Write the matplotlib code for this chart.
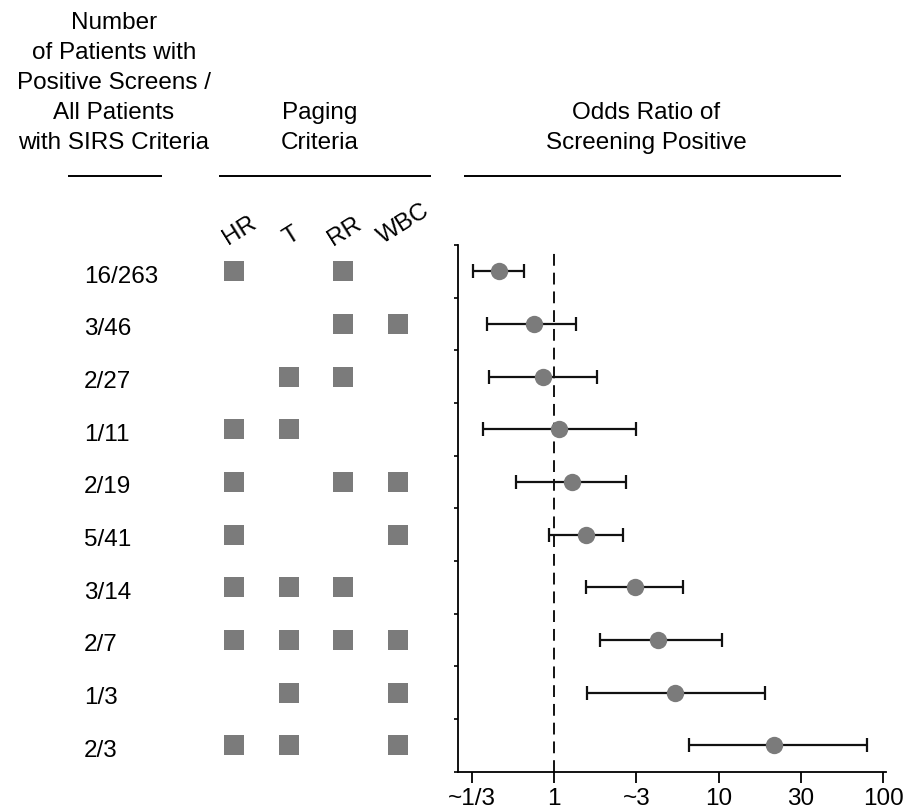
import numpy as np
import matplotlib
matplotlib.use("Agg")
import matplotlib.pyplot as plt
from matplotlib.transforms import offset_copy

plt.rcParams['font.family'] = ['Liberation Sans', 'DejaVu Sans']

# ---------------- data ----------------
counts = ["16/263", "3/46", "2/27", "1/11", "2/19", "5/41", "3/14", "2/7", "1/3", "2/3"]
criteria = ["HR", "T", "RR", "WBC"]
hr  = [1, 0, 0, 1, 1, 1, 1, 1, 0, 1]
t   = [0, 0, 1, 1, 0, 0, 1, 1, 1, 1]
rr  = [1, 1, 1, 0, 1, 0, 1, 1, 0, 0]
wbc = [0, 1, 0, 0, 1, 1, 0, 1, 1, 1]
odds_ratio = [0.46, 0.75, 0.86, 1.07, 1.28, 1.57, 3.08, 4.27, 5.39, 21.8]
ci_low     = [0.32, 0.39, 0.40, 0.37, 0.59, 0.93, 1.57, 1.89, 1.59, 6.64]
ci_high    = [0.655, 1.35, 1.83, 3.13, 2.75, 2.62, 6.05, 10.5, 19.1, 80.0]
xtick_vals = [10 ** -0.5, 1, 10 ** 0.5, 10, 10 ** 1.5, 100]
xtick_labels = ["~1/3", "1", "~3", "10", "30", "100"]

# ---------------- layout ----------------
W, H = 905, 810
FS = 17.5
GREY = '#7b7b7b'
fig = plt.figure(figsize=(W / 100, H / 100), dpi=100)

ax_left_px, ax_right_px, ax_top_px, ax_bot_px = 458.3, 886.0, 245.0, 771.5
pos = [ax_left_px / W, (H - ax_bot_px) / H, (ax_right_px - ax_left_px) / W, (ax_bot_px - ax_top_px) / H]

# overlay for headers
ov = fig.add_axes([0, 0, 1, 1])
ov.set_xlim(0, W)
ov.set_ylim(H, 0)
ov.axis('off')

LS = 1.475
ov.text(114, 12, "Number\nof Patients with\nPositive Screens /\nAll Patients\nwith SIRS Criteria",
        ha='center', va='top', fontsize=FS, linespacing=LS, multialignment='center')
ov.text(320, 102, "Paging\nCriteria", ha='center', va='top', fontsize=FS,
        linespacing=LS, multialignment='center')
ov.text(646, 102, "Odds Ratio of\nScreening Positive", ha='center', va='top', fontsize=FS,
        linespacing=LS, multialignment='center')
for x0, x1 in [(68, 162), (219, 431), (464, 841)]:
    ov.plot([x0, x1], [175.5, 175.5], color='black', lw=1.4, solid_capstyle='butt')

# paging criteria grid
n = len(counts)
rows = np.arange(n)
gx = fig.add_axes([0, pos[1], ax_left_px / W, pos[3]])
gx.set_xlim(0, ax_left_px)
gx.set_ylim(n - 0.5, -0.5)
gx.axis('off')
col_x = [234, 289, 343, 398]
for cx, flags in zip(col_x, [hr, t, rr, wbc]):
    f = np.array(flags, bool)
    gx.plot(np.full(f.sum(), cx), rows[f], 's', color=GREY, markersize=15.0,
            markeredgewidth=0, linestyle='none')

label_tr = offset_copy(gx.transData, fig=fig, x=0, y=-11.5, units='dots')
for r, c in zip(rows, counts):
    gx.text(84, r, c, ha='left', va='baseline', fontsize=FS, transform=label_tr)

lab_pos = [(219, 249), (279, 249), (324, 250), (374, 248)]
for (lx, ly), name in zip(lab_pos, criteria):
    ov.text(lx, ly, name, rotation=32, ha='left', va='bottom', fontsize=FS)

# forest plot
ax = fig.add_axes(pos)
ax.set_xscale('log')
ax.set_xlim(10 ** -0.582, 10 ** 2.016)
ax.set_ylim(n - 0.5, -0.5)
orv = np.array(odds_ratio)
err = [orv - np.array(ci_low), np.array(ci_high) - orv]
ax.errorbar(orv, rows, xerr=err, fmt='none', ecolor='#111111',
            elinewidth=1.6, capsize=5, capthick=1.6, zorder=3)
ax.plot(orv, rows, 'o', markersize=12.5, markerfacecolor=GREY, markeredgewidth=0,
        color=GREY, linestyle='none', zorder=4)
ax.axvline(1, ymin=0, ymax=0.994, color='black', lw=1.3,
           linestyle=(0, (8.5 / 1.3, 5.0 / 1.3)), zorder=2)

for s in ['top', 'right']:
    ax.spines[s].set_visible(False)
for s in ['left', 'bottom']:
    ax.spines[s].set_linewidth(1.3)
ax.set_xticks(xtick_vals)
ax.set_xticklabels(xtick_labels, fontsize=FS)
ax.xaxis.set_minor_locator(matplotlib.ticker.NullLocator())
ax.tick_params(axis='x', length=8, width=1.3, pad=4)
ax.set_yticks(np.arange(-0.5, n, 1.0))
ax.set_yticklabels([])
ax.tick_params(axis='y', length=3, width=1.2)

fig.savefig("out.png", dpi=100)
